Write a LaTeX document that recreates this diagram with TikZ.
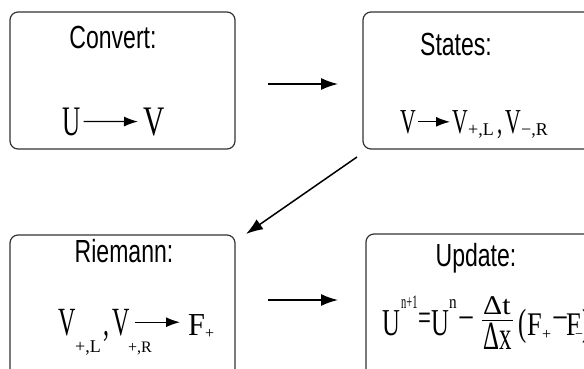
\documentclass[tikz,border=0pt]{standalone}
\usepackage{graphicx}
\usepackage{fontspec}
\setmainfont{Liberation Serif}
\newfontfamily\titlefont{Liberation Sans}
\usetikzlibrary{arrows.meta}

% size switch and horizontal squeeze for the tall formula letters
\newcommand\sz[1]{\fontsize{#1}{#1}\selectfont}
\newcommand\nrw[2]{\scalebox{#1}[1]{#2}}

\tikzset{
  box/.style={draw=black!80, line width=1.2pt, rounded corners=8pt, inner sep=0pt},
  ttl/.style={anchor=base, inner sep=0pt, font=\titlefont\sz{32}},
  pc/.style={anchor=base west, inner sep=0pt},
  flow/.style={line width=1.5pt, -{Latex[length=17pt,width=12pt]}},
  inarrow/.style={line width=1.3pt, -{Latex[length=14pt,width=10pt]}},
}

\begin{document}
\begin{tikzpicture}[x=1pt, y=-1pt]
\useasboundingbox (0,0) rectangle (584,368);
\clip (0,0) rectangle (584,368);

% the four stage boxes
\node[box, minimum width=225pt, minimum height=137pt] (convbox) at (122.5,80.5) {};
\node[box, minimum width=229pt, minimum height=137pt] (statebox) at (477.5,80.5) {};
\node[box, minimum width=225pt, minimum height=145pt] (riembox) at (122.5,307.5) {};
\node[box, minimum width=226pt, minimum height=146pt] (updbox) at (479,307) {};

% stage titles
\node[ttl] (t1) at (113,48) {\scalebox{0.72}[1]{Convert:}};
\node[ttl] (t2) at (456,55) {\scalebox{0.72}[1]{States:}};
\node[ttl] (t3) at (124,262) {\scalebox{0.72}[1]{Riemann:}};
\node[ttl] (t4) at (476,266) {\scalebox{0.72}[1]{Update:}};

% Convert: U -> V
\node[pc] (cu) at (62,135) {\sz{42}\nrw{0.6}{U}};
\node[pc] (cv) at (143,135) {\sz{42}\nrw{0.7}{V}};
\draw[inarrow, shorten <=3pt, shorten >=5pt] (cu.east) -- (cv.west);

% States: V -> V_{+,L}, V_{-,R}
\node[pc] (sv) at (400,133) {\sz{35}\nrw{0.62}{V}};
\node[pc] (svl) at (452,133) {\sz{35}\nrw{0.62}{V}};
\node[pc] (ssl) at (468,135) {\sz{18}+,L};
\node[pc] (sc) at (497,133) {\sz{35}\nrw{0.6}{,}};
\node[pc] (svr) at (505,133) {\sz{35}\nrw{0.62}{V}};
\node[pc] (ssr) at (521,135) {\sz{18}−,R};
\draw[inarrow, shorten <=2pt, shorten >=2pt] (sv.east) -- (svl.west);

% Riemann: V_{+,L}, V_{+,R} -> F_+
\node[pc] (rvl) at (58,335) {\sz{40}\nrw{0.6}{V}};
\node[pc] (rsl) at (75,352) {\sz{18}+,L};
\node[pc] (rc) at (103,335) {\sz{40}\nrw{0.6}{,}};
\node[pc] (rvr) at (112,335) {\sz{40}\nrw{0.6}{V}};
\node[pc] (rsr) at (128,352) {\sz{16}+,R};
\node[pc] (rf) at (188,335) {\sz{32}\nrw{0.95}{F}};
\node[pc] (rfs) at (205,338) {\sz{16}+};
\draw[inarrow, shorten <=5pt, shorten >=8pt] (rvr.east) -- (rvr.east -| rf.west);

% Update: U^{n+1} = U^n - (dt/dx)(F_+ - F_-)
\node[pc] (uu1) at (382,335) {\sz{38}\nrw{0.65}{U}};
\node[pc] (us1) at (401,308) {\sz{19}\nrw{0.55}{n+1}};
\node[pc] (ueq) at (418,330) {\sz{38}\nrw{0.6}{=}};
\node[pc] (uu2) at (431,335) {\sz{38}\nrw{0.65}{U}};
\node[pc] (us2) at (449,308) {\sz{19}\nrw{0.8}{n}};
\node[pc] (um1) at (458,330) {\sz{38}\nrw{0.75}{−}};
\node[pc] (unum) at (483,314) {\sz{27}\nrw{1.1}{Δt}};
\node[pc] (uden) at (483,349) {\sz{40}\nrw{0.62}{Δx}};
\draw[line width=1.3pt] ([xshift=-1pt,yshift=2pt]uden.north west) -- ([xshift=1pt,yshift=2pt]uden.north east);
\node[pc] (ulp) at (518,335) {\sz{38}\nrw{0.65}{(}};
\node[pc] (uf1) at (527,335) {\sz{33}\nrw{0.8}{F}};
\node[pc] (ufs1) at (542,339) {\sz{16}+};
\node[pc] (um2) at (552,330) {\sz{38}\nrw{0.75}{−}};
\node[pc] (uf2) at (566,335) {\sz{33}\nrw{0.8}{F}};
\node[pc] (ufs2) at (575,338) {\sz{14}−};
\node[pc] (urp) at (582,335) {\sz{38}\nrw{0.65}{)}};

% flow between the stages
\coordinate (h1s) at (268,84);
\coordinate (h1e) at (338,84);
\coordinate (h2s) at (268,300);
\coordinate (h2e) at (338,300);
\coordinate (ds) at (357,157);
\coordinate (de) at (246,234);
\draw[flow] (h1s) -- (h1e);
\draw[flow] (ds) -- (de);
\draw[flow] (h2s) -- (h2e);
\end{tikzpicture}
\end{document}
